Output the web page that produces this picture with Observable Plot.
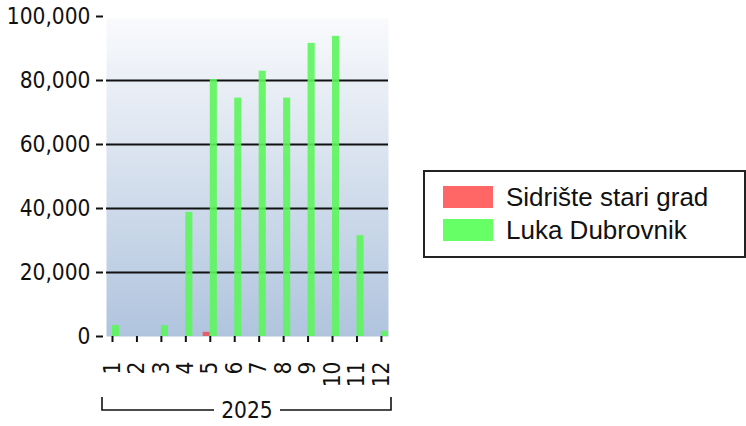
<!DOCTYPE html>
<html>
<head>
<meta charset="utf-8">
<script src="https://cdn.jsdelivr.net/npm/d3@7"></script>
<script src="https://cdn.jsdelivr.net/npm/@observablehq/plot@0.6"></script>
<style>
  html, body { margin: 0; padding: 0; background: #fff; }
  #wrap { position: relative; width: 746px; height: 426px; overflow: hidden; }
  #legend { position: absolute; left: 423px; top: 170px; width: 319px; height: 84px;
            border: 2px solid #222; background: #fff;
            font-family: "Liberation Sans", Arial, sans-serif; font-size: 26px; color: #111; }
  .item { position: absolute; left: 18px; height: 22px; display: flex; align-items: center; white-space: nowrap; }
  .sw { width: 50px; height: 22px; margin-right: 13px; flex: none; }
</style>
</head>
<body>
<div id="wrap"></div>
<script>
// ---- data ----
const months = [1, 2, 3, 4, 5, 6, 7, 8, 9, 10, 11, 12];
const seriesNames = ["Sidrište stari grad", "Luka Dubrovnik"];
const seriesColors = ["#ff6666", "#66ff66"];
const barColors = ["#e8545f", "#5cf55c"];
const sidriste = [0, 0, 0, 0, 1300, 0, 0, 0, 0, 0, 0, 0];
const luka = [3400, 0, 3400, 38800, 80300, 74500, 82900, 74500, 91600, 93800, 31500, 1600];
const yTicks = [0, 20000, 40000, 60000, 80000, 100000];
const gridValues = [20000, 40000, 60000, 80000];
const yearLabel = "2025";

// table built from the arrays
const barW = 0.29;
const rows = [];
months.forEach((m, i) => {
  rows.push({month: m, series: seriesNames[0], value: sidriste[i], side: -1});
  rows.push({month: m, series: seriesNames[1], value: luka[i], side: 0});
});

const FONT = '"DejaVu Sans Condensed", "DejaVu Sans", sans-serif';

const W = 746, H = 426;
const mL = 106, mR = W - 388, mT = 16, mB = H - 336;

function gradientDefs() {
  const defs = d3.create("svg:defs");
  const g = defs.append("linearGradient").attr("id", "bggrad")
    .attr("x1", 0).attr("y1", 0).attr("x2", 0).attr("y2", 1);
  g.append("stop").attr("offset", "0%").attr("stop-color", "#f9fafc");
  g.append("stop").attr("offset", "100%").attr("stop-color", "#b0c4de");
  return defs.node();
}

function yearBracket(index, scales, values, dimensions) {
  const {width, height, marginLeft, marginRight} = dimensions;
  const x0 = marginLeft - 4, x1 = width - marginRight + 3;
  const yLine = height - 16, yTop = yLine - 13;
  const cx = (marginLeft + width - marginRight) / 2;
  const gap = 33;
  const g = d3.create("svg:g").attr("fill", "none").attr("stroke", "#111").attr("stroke-width", 1.6);
  g.append("path").attr("d", `M${x0},${yTop}V${yLine}H${cx - gap}`);
  g.append("path").attr("d", `M${cx + gap},${yLine}H${x1}V${yTop}`);
  g.append("text").attr("x", cx).attr("y", yLine).attr("dy", "0.35em")
    .attr("text-anchor", "middle").attr("fill", "#111").attr("stroke", "none")
    .attr("font-size", 22.5).attr("font-family", FONT).text(yearLabel);
  return g.node();
}

const chart = Plot.plot({
  width: W, height: H,
  marginLeft: mL, marginRight: mR, marginTop: mT, marginBottom: mB,
  style: {fontFamily: FONT, fontSize: "22.5px", color: "#111", background: "transparent"},
  x: {type: "linear", domain: [0.755, 12.29]},
  y: {domain: [0, 100000]},
  marks: [
    gradientDefs,
    Plot.frame({fill: "url(#bggrad)", stroke: null, insetTop: 2}),
    Plot.ruleY(gridValues, {stroke: "#111", strokeWidth: 2}),
    Plot.rectY(rows, {
      x1: d => d.month + d.side * barW,
      x2: d => d.month + (d.side + 1) * barW,
      y1: 0, y2: "value",
      fill: d => barColors[seriesNames.indexOf(d.series)],
      fillOpacity: 0.9,
      clip: true
    }),
    Plot.axisY({ticks: yTicks, tickFormat: d3.format(","), tickSize: 7, tickPadding: 6, dx: -3, strokeWidth: 2, label: null}),
    Plot.axisX({ticks: months, tickFormat: d => String(d), tickRotate: -90, tickSize: 6, tickPadding: 19, strokeWidth: 2, label: null}),
    yearBracket
  ]
});

const wrap = document.getElementById("wrap");
wrap.appendChild(chart);

const legend = document.createElement("div");
legend.id = "legend";
seriesNames.forEach((name, i) => {
  const item = document.createElement("div");
  item.className = "item";
  item.style.top = (14 + i * 33) + "px";
  const sw = document.createElement("div");
  sw.className = "sw";
  sw.style.background = seriesColors[i];
  const t = document.createElement("span");
  t.textContent = name;
  item.appendChild(sw);
  item.appendChild(t);
  legend.appendChild(item);
});
wrap.appendChild(legend);
</script>
</body>
</html>
